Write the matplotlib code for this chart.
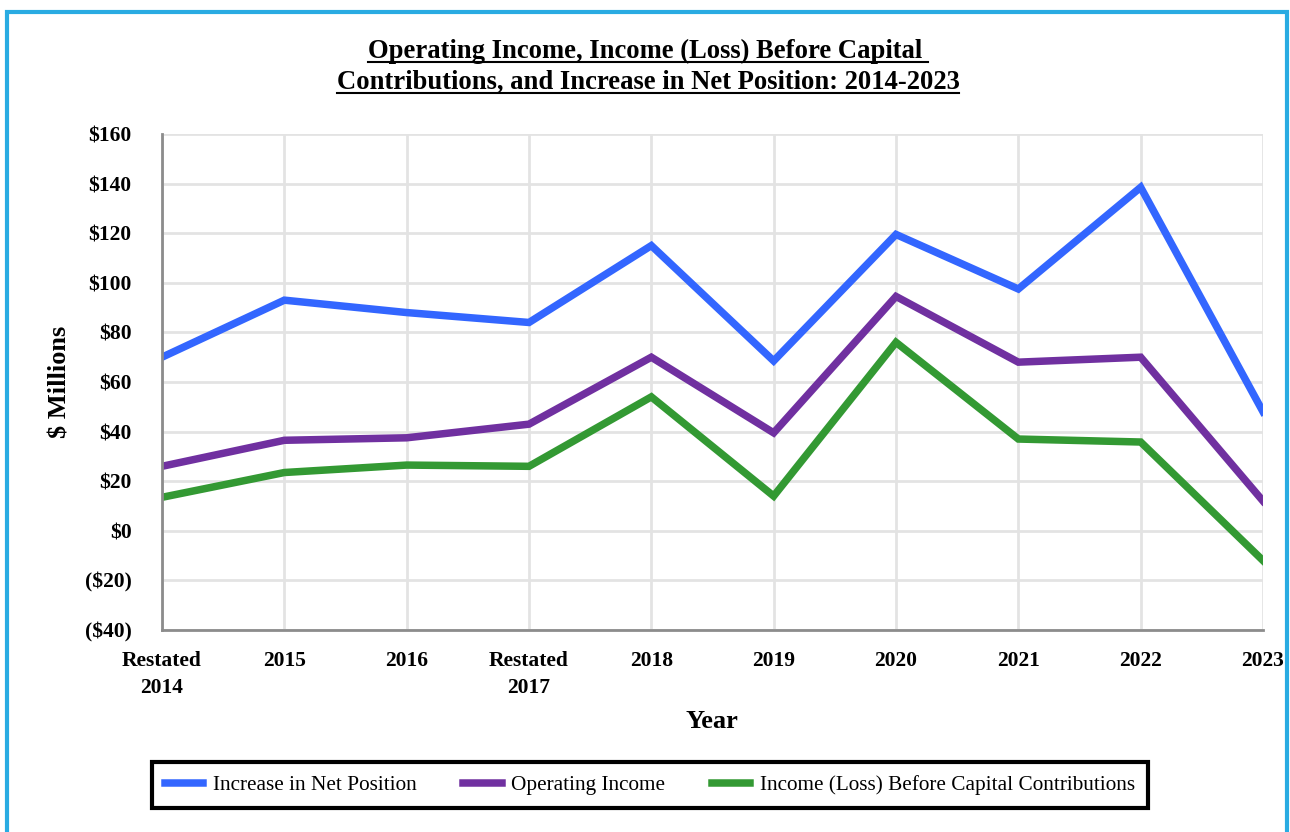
import matplotlib.pyplot as plt
from matplotlib.patches import Rectangle
from matplotlib.lines import Line2D

plt.rcParams['font.family'] = ['Liberation Serif', 'DejaVu Serif']

years = ["Restated\n2014", "2015", "2016", "Restated\n2017", "2018",
         "2019", "2020", "2021", "2022", "2023"]
net_position = [70, 93, 88, 84, 115, 68.5, 119.5, 97.5, 138.5, 48]
operating_income = [26, 36.5, 37.5, 43, 70, 39.5, 94.5, 68, 70, 12]
income_before_cap = [13.5, 23.5, 26.5, 26, 54, 14, 76, 37, 35.8, -12]
yticks = [-40, -20, 0, 20, 40, 60, 80, 100, 120, 140, 160]
ytick_labels = ["($40)", "($20)", "$0", "$20", "$40", "$60", "$80",
                "$100", "$120", "$140", "$160"]

fig = plt.figure(figsize=(12.9, 8.32), dpi=100)
ax = fig.add_axes([162/1290, 1-630/832, (1263-162)/1290, (630-134)/832])

x = list(range(len(years)))
ax.plot(x, net_position, color="#3366FF", lw=5.4, label="Increase in Net Position",
        solid_joinstyle="miter")
ax.plot(x, operating_income, color="#7030A0", lw=5.4, label="Operating Income",
        solid_joinstyle="miter")
ax.plot(x, income_before_cap, color="#339933", lw=5.4,
        label="Income (Loss) Before Capital Contributions", solid_joinstyle="miter")

ax.set_xlim(0, len(years) - 1)
ax.set_ylim(-40, 160)
ax.set_xticks(x)
ax.set_xticklabels(years, fontsize=15.5, fontweight="bold", linespacing=1.45)
ax.set_yticks(yticks)
ax.set_yticklabels(ytick_labels, fontsize=15.5, fontweight="bold")
ax.tick_params(axis="both", length=0)
ax.tick_params(axis="y", pad=22)
ax.tick_params(axis="x", pad=15)
ax.grid(True, color="#E3E3E3", lw=2)
ax.set_axisbelow(True)
for s in ["top", "right"]:
    ax.spines[s].set_visible(False)
for s in ["left", "bottom"]:
    ax.spines[s].set_color("#8C8C8C")
    ax.spines[s].set_linewidth(2)

fig.text(60/1290, 1-382/832, "$ Millions", rotation=90, fontsize=19,
         fontweight="bold", ha="center", va="center")
fig.text(712/1290, 1-721/832, "Year", fontsize=19, fontweight="bold",
         ha="center", va="center")

t1 = fig.text(648/1290, 1-51/832, "Operating Income, Income (Loss) Before Capital\u00a0",
              fontsize=19.2, fontweight="bold", ha="center", va="center")
t2 = fig.text(648/1290, 1-82/832, "Contributions, and Increase in Net Position: 2014-2023",
              fontsize=19.2, fontweight="bold", ha="center", va="center")

leg = fig.legend(loc="center", bbox_to_anchor=(650/1290, 1-785/832), ncol=3,
                 fontsize=15.3, frameon=True, fancybox=False, framealpha=1,
                 handlelength=1.8, columnspacing=2.2, handletextpad=0.45,
                 borderpad=0.6, borderaxespad=0)
leg.get_frame().set_edgecolor("black")
leg.get_frame().set_linewidth(3)

# outer border
fig.patches.append(Rectangle((7/1290, -0.05), (1287-7)/1290, 1.05-12/832,
                             transform=fig.transFigure, fill=False,
                             edgecolor="#29ABE2", lw=3))

# underline the title lines
fig.canvas.draw()
r = fig.canvas.get_renderer()
for t in (t1, t2):
    bb = t.get_window_extent(r).transformed(fig.transFigure.inverted())
    yl = bb.y0 + 0.002
    fig.add_artist(Line2D([bb.x0, bb.x1], [yl, yl], color="black", lw=1.5,
                          transform=fig.transFigure))

fig.savefig("out.png", dpi=100)
